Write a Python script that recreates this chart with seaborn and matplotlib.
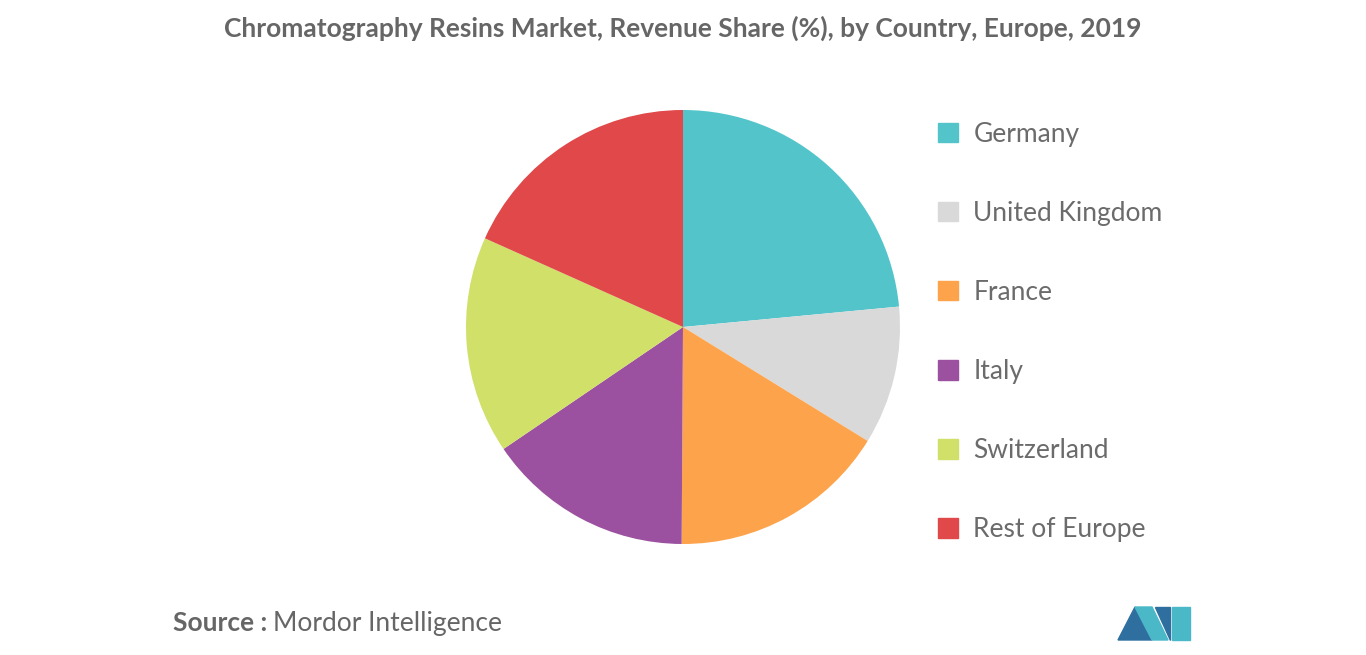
import matplotlib
matplotlib.use("Agg")
import matplotlib.pyplot as plt
import seaborn as sns
from matplotlib.patches import Patch, Polygon

sns.set_theme(style="white")
plt.rcParams['font.family'] = ['Lato', 'DejaVu Sans']

countries = ["Germany", "United Kingdom", "France", "Italy", "Switzerland", "Rest of Europe"]
shares = [23.5, 10.3, 16.3, 15.4, 16.2, 18.3]
colors = ["#52c4ca", "#d9d9d9", "#fda34b", "#9c51a0", "#d0e069", "#e04849"]

W, H = 1366, 655
fig = plt.figure(figsize=(W/100, H/100), dpi=100)
r = 217
ax = fig.add_axes([(683-r)/W, (655-544)/H, 2*r/W, 2*r/H])
ax.pie(shares, colors=colors, startangle=90, counterclock=False,
       wedgeprops=dict(linewidth=0), radius=1)
ax.set_xlim(-1, 1)
ax.set_ylim(-1, 1)
ax.set_aspect('equal')

fig.text(683/W, 1-28/H, "Chromatography Resins Market, Revenue Share (%), by Country, Europe, 2019",
         ha='center', va='center', fontsize=19, fontweight='bold', color='#666666')

handles = [Patch(color=c) for c in colors]
leg = fig.legend(handles, countries, loc='upper left', bbox_to_anchor=(914/W, 1-98/H),
                 frameon=False, fontsize=19, labelcolor='#6b6b6b',
                 handlelength=0.75, handleheight=0.75, handletextpad=0.6, labelspacing=2.05)

fig.text(173/W, 1-623/H, "Source :", fontsize=19, fontweight='bold', color='#666666', va='center')
fig.text(273/W, 1-623/H, "Mordor Intelligence", fontsize=19, color='#666666', va='center')

def P(pts, c):
    fig.patches.append(Polygon([(x/W, 1-y/H) for x, y in pts], closed=True,
                               transform=fig.transFigure, color=c))
P([(1118,640),(1135,607),(1152,640)], "#2f6f9f")
P([(1135,607),(1152,607),(1168,640),(1152,640)], "#4bb8c8")
P([(1155,607),(1170,607),(1170,640)], "#2f6f9f")
P([(1172,607),(1190,607),(1190,640),(1172,640)], "#4bb8c8")

fig.savefig("out.png", dpi=100)
